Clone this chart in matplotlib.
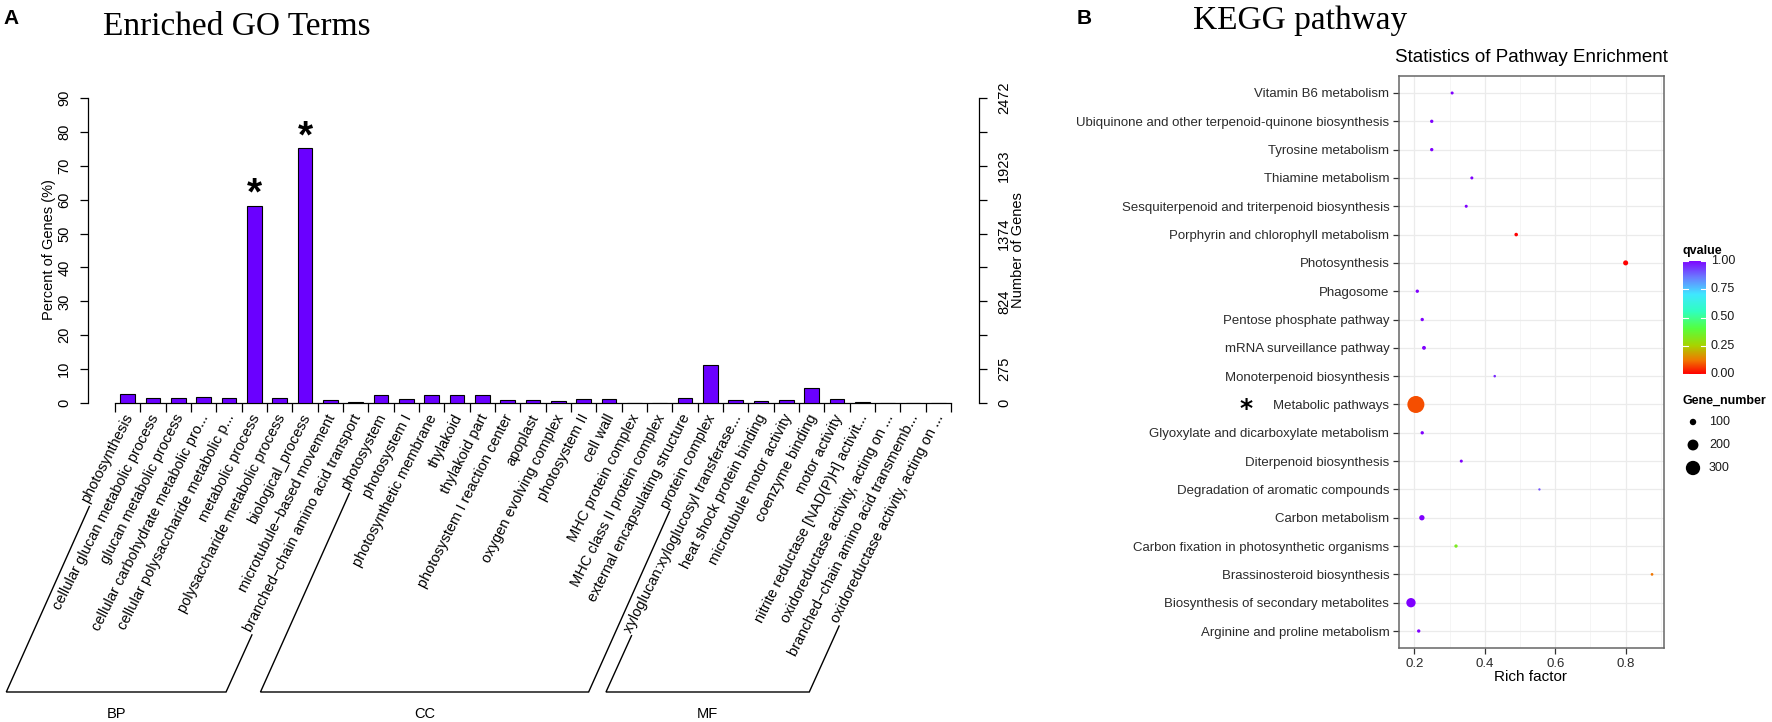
import numpy as np
import matplotlib
matplotlib.use('Agg')
import matplotlib.pyplot as plt
from matplotlib.colors import LinearSegmentedColormap
import matplotlib.transforms as mtransforms

W, H, DPI = 1772, 722, 100

# ---------------- data: panel A (GO) ----------------
go_terms = [
    "photosynthesis", "cellular glucan metabolic process", "glucan metabolic process",
    "cellular carbohydrate metabolic pro...", "cellular polysaccharide metabolic p...",
    "metabolic process", "polysaccharide metabolic process", "biological_process",
    "microtubule\u2212based movement", "branched\u2212chain amino acid transport",
    "photosystem", "photosystem I", "photosynthetic membrane", "thylakoid", "thylakoid part",
    "photosystem I reaction center", "apoplast", "oxygen evolving complex", "photosystem II",
    "cell wall", "MHC protein complex", "MHC class II protein complex",
    "external encapsulating structure", "protein complex",
    "xyloglucan:xyloglucosyl transferase...", "heat shock protein binding",
    "microtubule motor activity", "coenzyme binding", "motor activity",
    "nitrite reductase [NAD(P)H] activit...", "oxidoreductase activity, acting on ...",
    "branched\u2212chain amino acid transmemb...", "oxidoreductase activity, acting on ...",
]
go_percent = [2.6, 1.4, 1.4, 1.9, 1.4, 58.2, 1.6, 75.1, 0.9, 0.15,
              2.35, 1.2, 2.35, 2.45, 2.45, 0.8, 0.8, 0.7, 1.2, 1.3, 0.12, 0.12, 1.5, 11.1,
              0.8, 0.6, 0.9, 4.3, 1.2, 0.15, 0.12, 0.12, 0.12]
go_groups = ["BP", "CC", "MF"]
go_group_sizes = [10, 14, 9]
go_star_idx = [5, 7]
pct_ticks = list(range(0, 91, 10))
gene_axis_max = 2472
gene_tick_labels = ["0", "275", "", "824", "", "1374", "", "1923", "", "2472"]

# ---------------- data: panel B (KEGG) ----------------
kegg_pathways = [
    "Vitamin B6 metabolism", "Ubiquinone and other terpenoid-quinone biosynthesis",
    "Tyrosine metabolism", "Thiamine metabolism", "Sesquiterpenoid and triterpenoid biosynthesis",
    "Porphyrin and chlorophyll metabolism", "Photosynthesis", "Phagosome",
    "Pentose phosphate pathway", "mRNA surveillance pathway", "Monoterpenoid biosynthesis",
    "Metabolic pathways", "Glyoxylate and dicarboxylate metabolism", "Diterpenoid biosynthesis",
    "Degradation of aromatic compounds", "Carbon metabolism",
    "Carbon fixation in photosynthetic organisms", "Brassinosteroid biosynthesis",
    "Biosynthesis of secondary metabolites", "Arginine and proline metabolism",
]
kegg_rich = [0.307, 0.249, 0.249, 0.363, 0.347, 0.489, 0.80, 0.208, 0.222, 0.227,
             0.428, 0.204, 0.222, 0.333, 0.555, 0.221, 0.318, 0.875, 0.19, 0.212]
kegg_q = [1.0, 1.0, 1.0, 1.0, 1.0, 0.0, 0.0, 1.0, 1.0, 1.0,
          0.95, 0.08, 1.0, 1.0, 0.9, 1.0, 0.33, 0.12, 1.0, 1.0]
kegg_genes = [47, 51, 51, 47, 47, 54, 76, 51, 51, 58,
              41, 393, 51, 47, 38, 81, 51, 43, 161, 51]
kegg_star = "Metabolic pathways"
rich_ticks = [0.2, 0.4, 0.6, 0.8]
rich_minor = [0.3, 0.5, 0.7, 0.9]
q_ticks = [0.0, 0.25, 0.5, 0.75, 1.0]
size_breaks = [100, 200, 300]

plt.rcParams['font.family'] = ['Liberation Sans', 'DejaVu Sans']

fig = plt.figure(figsize=(W / DPI, H / DPI), dpi=DPI)


def box(l, t, r, b):
    return [l / W, 1 - b / H, (r - l) / W, (b - t) / H]


overlay = fig.add_axes([0, 0, 1, 1], facecolor='none', zorder=10)
overlay.set_xlim(0, W)
overlay.set_ylim(H, 0)
overlay.axis('off')

# ================= Panel A =================
n = len(go_terms)
xs = np.arange(n)
unit = (951 - 115) / n
axA = fig.add_axes(box(88, 98, 979, 403))
axA.bar(xs, go_percent, width=0.59, color='#6A00FF', edgecolor='black', linewidth=0.8, zorder=3)
axA.set_xlim(-0.5 - (115 - 88) / unit, n - 0.5 + (979 - 951) / unit)
axA.set_ylim(0, 90)
for s in ['top', 'right']:
    axA.spines[s].set_visible(False)
for s in ['left', 'bottom']:
    axA.spines[s].set_linewidth(0.9)
axA.spines['left'].set_bounds(0, 90)
axA.spines['bottom'].set_bounds(-0.5, n - 0.5)
axA.set_xticks(np.arange(-0.5, n, 1.0))
axA.set_xticklabels([])
axA.tick_params(axis='x', length=6.5, width=0.9)
axA.set_yticks(pct_ticks)
axA.set_yticklabels([str(v) for v in pct_ticks], rotation=90, va='center', fontsize=10.5)
axA.tick_params(axis='y', length=6, width=0.9, pad=6)

axA2 = axA.twinx()
axA2.set_ylim(0, gene_axis_max)
for s in ['top', 'left', 'bottom']:
    axA2.spines[s].set_visible(False)
axA2.spines['right'].set_linewidth(0.9)
axA2.spines['right'].set_bounds(0, gene_axis_max)
axA2.set_yticks(np.arange(10) * gene_axis_max / 9)
axA2.set_yticklabels(gene_tick_labels, rotation=90, va='center', fontsize=10.5)
axA2.tick_params(axis='y', length=6, width=0.9, pad=7)

lab_tr = mtransforms.offset_copy(axA.transData, fig=fig, x=2, y=-12, units='dots')
go_texts = []
for i, t in enumerate(go_terms):
    go_texts.append(axA.text(i, 0, t, transform=lab_tr, rotation=63, rotation_mode='anchor',
                             ha='right', va='center', fontsize=10.5, clip_on=False))

star_tr = mtransforms.offset_copy(axA.transData, fig=fig, x=0, y=1, units='dots')
for i in go_star_idx:
    axA.text(i, go_percent[i], '*', transform=star_tr, ha='center', va='baseline',
             fontsize=28, fontweight='bold')

fig.text(49 / W, 1 - 250 / H, 'Percent of Genes (%)', rotation=90, ha='center', va='center', fontsize=10.5)
fig.text(1018 / W, 1 - 250 / H, 'Number of Genes', rotation=90, ha='center', va='center', fontsize=10.5)

overlay.text(103, 35, 'Enriched GO Terms', family=['Liberation Serif'], fontsize=24, ha='left', va='baseline')
overlay.text(3, 24, 'A', fontweight='bold', fontsize=15, ha='left', va='baseline')
overlay.text(1077, 24, 'B', fontweight='bold', fontsize=15, ha='left', va='baseline')
overlay.text(1193, 29, 'KEGG pathway', family=['Liberation Serif'], fontsize=24, ha='left', va='baseline')

# ================= Panel B =================
cmap = LinearSegmentedColormap.from_list('qv', [
    (0.0, '#FF0000'), (0.12, '#F07800'), (0.25, '#A8D400'), (0.40, '#55FF40'),
    (0.55, '#30FFC0'), (0.70, '#40E8FF'), (0.85, '#6A7CFF'), (1.0, '#7F00FF')])

gmin, gmax = min(kegg_genes), max(kegg_genes)


def dot_px(v):
    return 2.3 + (17 - 2.3) * (np.sqrt(v) - np.sqrt(gmin)) / (np.sqrt(gmax) - np.sqrt(gmin))


def dot_s(v):
    return (dot_px(np.asarray(v, dtype=float)) * 72 / DPI) ** 2


axB = fig.add_axes(box(1399, 76, 1664, 648))
yk = np.arange(len(kegg_pathways))
axB.scatter(kegg_rich, yk, s=dot_s(kegg_genes), c=kegg_q, cmap=cmap, vmin=0, vmax=1,
            linewidths=0, zorder=3)
axB.set_ylim(len(kegg_pathways) - 1 + 0.6, -0.6)
axB.set_xlim(0.156, 0.909)
axB.set_yticks(yk)
axB.set_yticklabels(kegg_pathways, fontsize=9.5, color='#2b2b2b')
axB.set_xticks(rich_ticks)
axB.set_xticklabels([f'{v:.1f}' for v in rich_ticks], fontsize=9.5, color='#2b2b2b')
axB.set_xticks(rich_minor, minor=True)
axB.grid(True, which='major', color='#EBEBEB', linewidth=0.9, zorder=0)
axB.grid(True, which='minor', axis='x', color='#F2F2F2', linewidth=0.5, zorder=0)
axB.set_axisbelow(True)
for s in axB.spines.values():
    s.set_color('#666666')
    s.set_linewidth(1.1)
axB.tick_params(axis='both', which='major', length=4, width=0.9, color='#333333', pad=3)
axB.tick_params(axis='x', which='minor', length=0)

overlay.text(1531, 58, 'Statistics of Pathway Enrichment', fontsize=13.5, ha='center', va='center')
overlay.text(1531, 677, 'Rich factor', fontsize=11, ha='center', va='center')
# asterisk beside Metabolic pathways
row_star = kegg_pathways.index(kegg_star)
ystar = 93 + row_star * (631 - 93) / (len(kegg_pathways) - 1)
overlay.text(1246, ystar + 5, '*', family=['DejaVu Sans'], fontsize=18, fontweight='bold',
             ha='center', va='center')

# colourbar legend
cb_l, cb_r, cb_t, cb_b = 1683, 1706, 261, 374
cax = fig.add_axes(box(cb_l, cb_t, cb_r, cb_b))
cax.imshow(np.linspace(0, 1, 256)[:, None], aspect='auto', cmap=cmap, origin='lower',
           extent=[0, 1, 0, 1], vmin=0, vmax=1)
cax.set_xlim(0, 1)
cax.set_ylim(0, 1)
cax.axis('off')
for q in q_ticks:
    cax.plot([0, 0.2], [q, q], color='white', lw=0.8)
    cax.plot([0.8, 1], [q, q], color='white', lw=0.8)
    overlay.text(1711, cb_b - q * (cb_b - cb_t), f'{q:.2f}', fontsize=9, ha='left', va='center', color='#1a1a1a')
overlay.text(1683, 251, 'qvalue', fontsize=9, fontweight='bold', ha='left', va='center')

overlay.text(1683, 401, 'Gene_number', fontsize=9, fontweight='bold', ha='left', va='center')
leg_y = [422, 445, 468]
overlay.scatter([1693] * len(size_breaks), leg_y, s=dot_s(size_breaks), color='black', linewidths=0)
for b, y in zip(size_breaks, leg_y):
    overlay.text(1709, y, str(b), fontsize=9, ha='left', va='center', color='#1a1a1a')

# ================= group brackets for panel A =================
fig.canvas.draw()
rend = fig.canvas.get_renderer()
ang = np.deg2rad(66)
base_y = 692


def start_pt(t):
    bb = t.get_window_extent(rend)
    h = t.get_fontsize() * DPI / 72
    sx = bb.x0 + 0.8 * h * np.sin(np.deg2rad(63))
    sy = H - bb.y0
    return sx, sy


idx = 0
for g, size in zip(go_groups, go_group_sizes):
    first, last = go_texts[idx], go_texts[idx + size - 1]
    sx1, sy1 = start_pt(first)
    sx2, sy2 = start_pt(last)
    bx1 = sx1 - (base_y - sy1) / np.tan(ang)
    bx2 = sx2 - (base_y - sy2) / np.tan(ang)
    overlay.plot([sx1, bx1, bx2, sx2], [sy1 + 1, base_y, base_y, sy2 + 1], color='black', lw=1.0,
                 solid_joinstyle='miter')
    overlay.text((bx1 + bx2) / 2, 714, g, fontsize=10.5, ha='center', va='center')
    idx += size

fig.savefig('out.png', dpi=DPI)
